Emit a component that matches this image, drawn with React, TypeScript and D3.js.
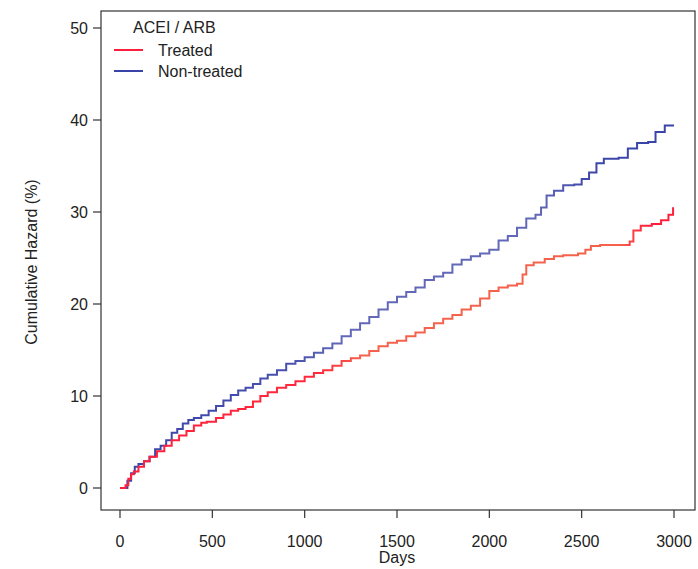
import React from "react";
import * as d3 from "d3";

const treatedDays = [0, 30, 45, 60, 75, 100, 130, 160, 200, 240, 280, 320, 360, 400, 440, 470, 520, 560, 600, 640, 680, 720, 760, 800, 850, 900, 950, 1000, 1050, 1100, 1150, 1200, 1250, 1300, 1350, 1400, 1450, 1500, 1550, 1600, 1650, 1700, 1750, 1800, 1850, 1900, 1950, 2000, 2050, 2100, 2150, 2180, 2200, 2240, 2300, 2350, 2400, 2480, 2520, 2550, 2600, 2700, 2760, 2780, 2820, 2880, 2930, 2970, 2995, 3000];
const treatedValues = [0, 0.3, 1.0, 1.5, 1.8, 2.3, 2.9, 3.4, 4.0, 4.6, 5.2, 5.7, 6.2, 6.8, 7.1, 7.2, 7.6, 8.0, 8.4, 8.6, 8.8, 9.4, 10.0, 10.4, 10.9, 11.2, 11.6, 12.1, 12.5, 12.8, 13.3, 13.8, 14.1, 14.4, 14.9, 15.4, 15.8, 16.0, 16.5, 16.9, 17.4, 17.9, 18.4, 18.8, 19.4, 19.8, 20.6, 21.4, 21.8, 22.0, 22.2, 23.2, 24.2, 24.5, 24.9, 25.2, 25.3, 25.5, 25.9, 26.3, 26.4, 26.4, 26.8, 28.0, 28.5, 28.7, 29.1, 29.7, 30.4, 30.4];

const nonTreatedDays = [0, 25, 40, 60, 80, 100, 130, 160, 190, 220, 250, 280, 310, 340, 370, 400, 440, 480, 520, 560, 600, 640, 680, 720, 760, 800, 850, 900, 950, 1000, 1050, 1100, 1150, 1200, 1250, 1300, 1350, 1400, 1450, 1500, 1550, 1600, 1650, 1700, 1750, 1800, 1850, 1900, 1950, 2000, 2050, 2100, 2150, 2200, 2250, 2280, 2310, 2350, 2400, 2460, 2500, 2540, 2580, 2620, 2700, 2750, 2800, 2860, 2900, 2950, 2980, 3000];
const nonTreatedValues = [0, 0, 0.8, 1.6, 2.3, 2.6, 2.9, 3.4, 4.2, 4.6, 5.2, 6.0, 6.4, 7.0, 7.4, 7.6, 7.9, 8.4, 8.9, 9.5, 10.1, 10.6, 10.9, 11.3, 11.9, 12.3, 12.8, 13.5, 13.8, 14.2, 14.7, 15.2, 15.7, 16.5, 17.2, 17.9, 18.6, 19.4, 20.2, 20.8, 21.3, 21.8, 22.6, 23.0, 23.4, 24.3, 24.8, 25.2, 25.5, 25.9, 26.9, 27.4, 28.3, 29.3, 29.7, 30.5, 31.8, 32.3, 32.9, 33.0, 33.6, 34.3, 35.3, 35.8, 35.9, 36.9, 37.5, 37.6, 38.7, 39.4, 39.4, 39.4];

const xTicks = [0, 500, 1000, 1500, 2000, 2500, 3000];
const yTicks = [0, 10, 20, 30, 40, 50];
const legendTitle = "ACEI / ARB";
const seriesNames = ["Treated", "Non-treated"];

const W = 698;
const H = 569;
const box = { left: 101, right: 695, top: 11, bottom: 510 };
const font = "'Liberation Sans', Arial, sans-serif";
const textColor = "#222";
const fs = 16;

export default function App() {
  const x = d3.scaleLinear().domain([0, 3000]).range([120, 674]);
  const y = d3.scaleLinear().domain([0, 50]).range([488, 28]);

  const line = d3
    .line<[number, number]>()
    .x((d) => x(d[0]))
    .y((d) => y(d[1]))
    .curve(d3.curveStepAfter);

  const treated = treatedDays.map((d, i) => [d, treatedValues[i]] as [number, number]);
  const nonTreated = nonTreatedDays.map((d, i) => [d, nonTreatedValues[i]] as [number, number]);

  return (
    <svg width={W} height={H} style={{ position: "absolute", left: 0, top: 0, background: "#fff" }}>
      <defs>
        <linearGradient id="gTreated" gradientUnits="userSpaceOnUse" x1={x(0)} x2={x(3000)} y1={0} y2={0}>
          <stop offset="0" stopColor="#ff1f3c" />
          <stop offset="0.36" stopColor="#ff2a3c" />
          <stop offset="0.44" stopColor="#f5624b" />
          <stop offset="0.9" stopColor="#f5624b" />
          <stop offset="0.95" stopColor="#ff1f3c" />
          <stop offset="1" stopColor="#ff1f3c" />
        </linearGradient>
        <linearGradient id="gNon" gradientUnits="userSpaceOnUse" x1={x(0)} x2={x(3000)} y1={0} y2={0}>
          <stop offset="0" stopColor="#3a44a8" />
          <stop offset="0.3" stopColor="#4750ad" />
          <stop offset="0.4" stopColor="#6268b8" />
          <stop offset="0.75" stopColor="#6268b8" />
          <stop offset="0.85" stopColor="#3d47a9" />
          <stop offset="1" stopColor="#3a44a8" />
        </linearGradient>
      </defs>
      <rect width={W} height={H} fill="#fff" />

      <path d={line(nonTreated) || ""} fill="none" stroke="url(#gNon)" strokeWidth={2} />
      <path d={line(treated) || ""} fill="none" stroke="url(#gTreated)" strokeWidth={2} />

      <rect
        x={box.left}
        y={box.top}
        width={box.right - box.left}
        height={box.bottom - box.top}
        fill="none"
        stroke="#333"
        strokeWidth={1.2}
      />

      {xTicks.map((t) => (
        <g key={"x" + t}>
          <line x1={x(t)} x2={x(t)} y1={box.bottom} y2={box.bottom + 8} stroke="#333" strokeWidth={1.2} />
          <text x={x(t)} y={547} textAnchor="middle" fontFamily={font} fontSize={fs} fill={textColor}>
            {t}
          </text>
        </g>
      ))}
      {yTicks.map((t) => (
        <g key={"y" + t}>
          <line x1={box.left - 8} x2={box.left} y1={y(t)} y2={y(t)} stroke="#333" strokeWidth={1.2} />
          <text x={box.left - 13} y={y(t) + 6} textAnchor="end" fontFamily={font} fontSize={fs} fill={textColor}>
            {t}
          </text>
        </g>
      ))}

      <text x={397} y={563} textAnchor="middle" fontFamily={font} fontSize={fs} fill={textColor}>
        Days
      </text>
      <text
        transform={`translate(37, 262) rotate(-90)`}
        textAnchor="middle"
        fontFamily={font}
        fontSize={fs}
        fill={textColor}
      >
        Cumulative Hazard (%)
      </text>

      <text x={133} y={33} fontFamily={font} fontSize={fs} fill={textColor}>
        {legendTitle}
      </text>
      <line x1={114} x2={143} y1={50} y2={50} stroke="#ff1f3c" strokeWidth={2} />
      <line x1={114} x2={143} y1={71} y2={71} stroke="#3a44a8" strokeWidth={2} />
      <text x={158} y={56} fontFamily={font} fontSize={fs} fill={textColor}>
        {seriesNames[0]}
      </text>
      <text x={158} y={77} fontFamily={font} fontSize={fs} fill={textColor}>
        {seriesNames[1]}
      </text>
    </svg>
  );
}
